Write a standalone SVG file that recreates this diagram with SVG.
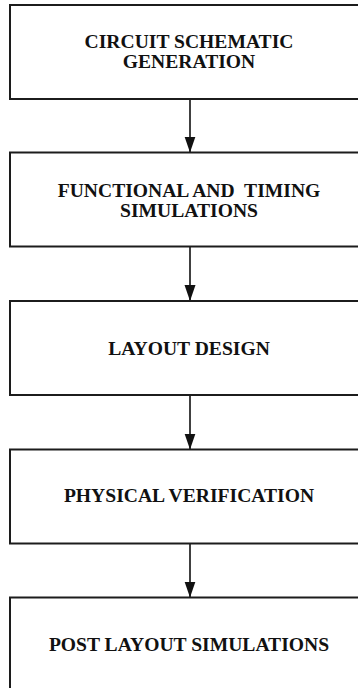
<svg xmlns="http://www.w3.org/2000/svg" width="358" height="688" viewBox="0 0 358 688">
  <style>
    .box { fill: #ffffff; stroke: #1c1c1c; stroke-width: 2; }
    .lbl { font-family: "Liberation Serif", "Times New Roman", serif; font-weight: bold; font-size: 19.6px; fill: #111111; text-anchor: middle; }
    .conn { stroke: #111111; stroke-width: 1.6; fill: none; marker-end: url(#arrow); }
  </style>
  <defs>
    <marker id="arrow" markerUnits="userSpaceOnUse" markerWidth="17" markerHeight="12" refX="16" refY="5.5" orient="auto">
      <path d="M0,0 L16,5.5 L0,11 Z" fill="#111111"/>
    </marker>
  </defs>
  <rect width="358" height="688" fill="#ffffff"/>
  <g id="connectors">
    <line class="conn" x1="190" y1="99" x2="190" y2="152.5"/>
    <line class="conn" x1="190" y1="246.5" x2="190" y2="301"/>
    <line class="conn" x1="190" y1="395" x2="190" y2="449.5"/>
    <line class="conn" x1="190" y1="543.5" x2="190" y2="597.5"/>
  </g>
  <g id="node1">
    <rect class="box" x="10" y="5" width="360" height="94"/>
    <text class="lbl" x="189" y="47.7">CIRCUIT SCHEMATIC</text>
    <text class="lbl" x="189" y="68.3">GENERATION</text>
  </g>
  <g id="node2">
    <rect class="box" x="10" y="152.5" width="360" height="94"/>
    <text class="lbl" x="189" y="197.3">FUNCTIONAL AND&#160; TIMING</text>
    <text class="lbl" x="189" y="216.9">SIMULATIONS</text>
  </g>
  <g id="node3">
    <rect class="box" x="10" y="301" width="360" height="94"/>
    <text class="lbl" x="189" y="355">LAYOUT DESIGN</text>
  </g>
  <g id="node4">
    <rect class="box" x="10" y="449.5" width="360" height="94"/>
    <text class="lbl" x="189" y="501.7">PHYSICAL VERIFICATION</text>
  </g>
  <g id="node5">
    <rect class="box" x="10" y="597.5" width="360" height="94"/>
    <text class="lbl" x="189" y="650.7">POST LAYOUT SIMULATIONS</text>
  </g>
</svg>
